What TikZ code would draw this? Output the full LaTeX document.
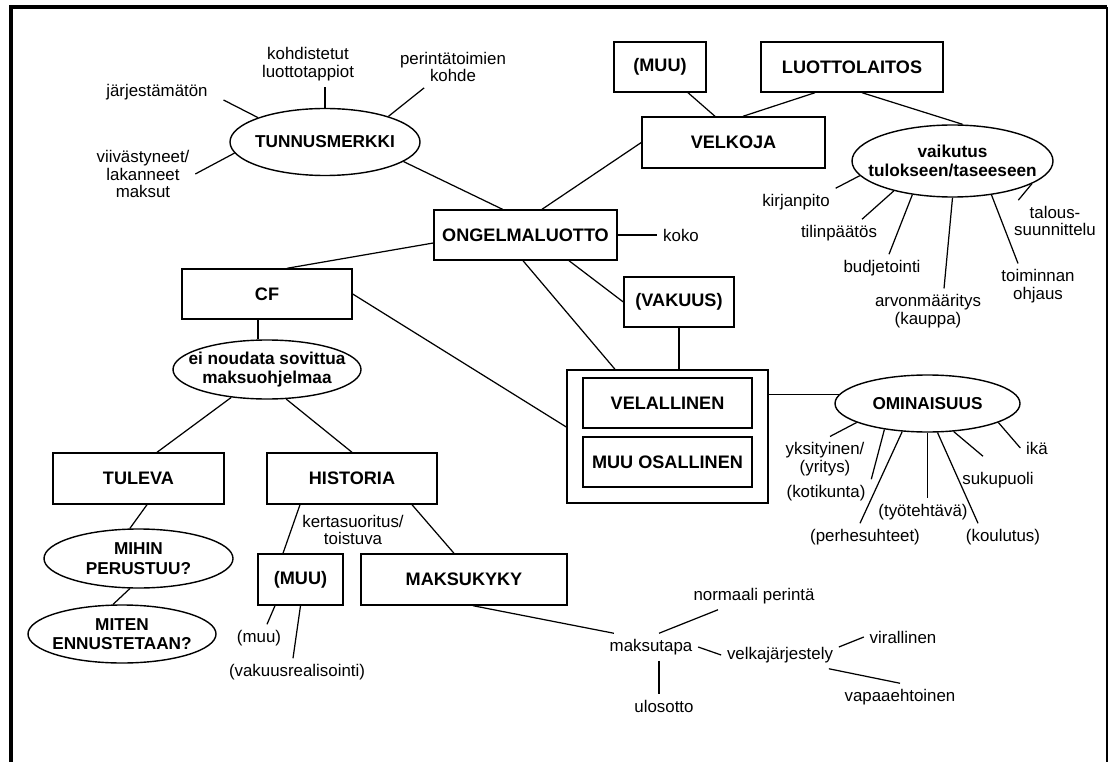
\documentclass[tikz,border=0pt]{standalone}
\usepackage{fontspec}
\setmainfont{Liberation Sans}
\usetikzlibrary{shapes.geometric}
\tikzset{
  leaf/.style={inner sep=3pt, align=center, font=\fontsize{9.6}{10}\selectfont}
}

\begin{document}
\begin{tikzpicture}[x=0.2mm, y=-0.2mm, line width=0.7pt,
  box/.style={draw, line width=0.8pt, minimum height=10mm, inner sep=0pt, font=\bfseries\fontsize{10.3}{11}\selectfont},
  oval/.style={draw, ellipse, line width=0.8pt, inner sep=-30pt, align=center, font=\bfseries\fontsize{9.8}{11}\selectfont}]
\useasboundingbox (0,0) rectangle (1109,762);
\draw[line width=2pt] (11,762) -- (11,7) -- (1107,7);
\draw[line width=1pt] (1107,7) -- (1107,762);

\node[box, minimum width=36.6mm] (ongel) at (525.5,235) {ONGELMALUOTTO};
\node[leaf] (koko) at (681,235) {koko};
\node[box, minimum width=22mm] (vakuus) at (679,302) {(VAKUUS)};

\node[oval, minimum width=38mm, minimum height=13.4mm] (tunnus) at (325,142) {TUNNUSMERKKI};
\node[leaf] (jarj) at (157,92) {järjestämätön};
\node[leaf] (kohd) at (308,64) {kohdistetut\\luottotappiot};
\node[leaf] (perint) at (453,67) {perintätoimien\\kohde};
\node[leaf] (viiv) at (143,174) {viivästyneet/\\lakanneet\\maksut};

\node[box, minimum width=36.6mm, minimum height=10.2mm] (velkoja) at (733.5,142.5) {VELKOJA};
\node[box, minimum width=18.4mm] (muuvelk) at (660,67) {(MUU)};
\node[box, minimum width=36.4mm] (laitos) at (852,67) {LUOTTOLAITOS};
\node[oval, minimum width=40.2mm, minimum height=14.4mm] (vaik) at (952.5,161) {vaikutus\\tulokseen/taseeseen};
\node[leaf] (kirj) at (796,202) {kirjanpito};
\node[leaf] (tilin) at (839,233) {tilinpäätös};
\node[leaf] (budj) at (882,268) {budjetointi};
\node[leaf] (arvo) at (928,311) {arvonmääritys\\(kauppa)};
\node[leaf] (toim) at (1038,286) {toiminnan\\ohjaus};
\node[leaf] (talous) at (1055,221) {talous-\\suunnittelu};

\node[draw, line width=0.8pt, minimum width=40.2mm, minimum height=26.6mm] (osapuoli) at (667.5,436.5) {};
\node[box, minimum width=33.8mm] (velal) at (667.5,403) {VELALLINEN};
\node[box, minimum width=33.8mm] (muuosa) at (667.5,462) {MUU OSALLINEN};
\node[oval, minimum width=37mm, minimum height=11.4mm] (omin) at (927.5,403.5) {OMINAISUUS};
\node[leaf] (yksi) at (825,459) {yksityinen/\\(yritys)};
\node[leaf] (kotik) at (826,493) {(kotikunta)};
\node[leaf] (perhe) at (865,537) {(perhesuhteet)};
\node[leaf] (tyot) at (923,512) {(työtehtävä)};
\node[leaf] (koul) at (1003,537) {(koulutus)};
\node[leaf] (suku) at (998,480) {sukupuoli};
\node[leaf] (ika) at (1037,448) {ikä};

\node[box, minimum width=34mm] (cf) at (267,294) {CF};
\node[oval, minimum width=37.6mm, minimum height=11.8mm] (einoud) at (267,369.5) {ei noudata sovittua\\maksuohjelmaa};
\node[box, minimum width=34.2mm, minimum height=10.2mm] (tuleva) at (138.5,478.5) {TULEVA};
\node[box, minimum width=34mm, minimum height=10.2mm] (historia) at (352,478.5) {HISTORIA};
\node[oval, minimum width=37.8mm, minimum height=11.8mm] (mihin) at (138.5,558.5) {MIHIN\\PERUSTUU?};
\node[oval, minimum width=37.6mm, minimum height=11.6mm] (miten) at (122,634) {MITEN\\ENNUSTETAAN?};
\node[leaf] (kerta) at (353,530) {kertasuoritus/\\toistuva};
\node[box, minimum width=17mm, minimum height=10.2mm] (muuhist) at (300.5,579.5) {(MUU)};
\node[box, minimum width=41.2mm, minimum height=10.2mm] (kyky) at (464,579.5) {MAKSUKYKY};
\node[leaf] (muu) at (259,638) {(muu)};
\node[leaf] (vakre) at (297,672) {(vakuusrealisointi)};

\node[leaf] (mtapa) at (651,647) {maksutapa};
\node[leaf] (norm) at (754,596) {normaali perintä};
\node[leaf] (uloso) at (664,706) {ulosotto};
\node[leaf] (velkaj) at (780,655) {velkajärjestely};
\node[leaf] (viral) at (903,637) {virallinen};
\node[leaf] (vapaa) at (900,697) {vapaaehtoinen};

\draw ([shift={(2mm,-1.6mm)}]jarj.east) -- (tunnus.160);
\draw (tunnus.north) -- (tunnus.north |- kohd.south);
\draw ([xshift=6mm]perint.south west) -- (tunnus.22);
\draw (viiv.east) -- (tunnus.187);
\draw (tunnus.346) -- ([xshift=-4.6mm]ongel.north);
\draw (velkoja.west) -- ([xshift=3.3mm]ongel.north);
\draw ([xshift=5.6mm]muuvelk.south) -- ([xshift=-3.7mm]velkoja.north);
\draw ([xshift=-7.4mm]laitos.south) -- ([xshift=1.9mm]velkoja.north);
\draw ([xshift=2mm]laitos.south) -- ([xshift=2mm]vaik.north);
\draw (kirj.north east) -- (vaik.189);
\draw ([xshift=4.6mm]tilin.north) -- (vaik.207);
\draw ([xshift=1.4mm]budj.north) -- (vaik.220);
\draw ([xshift=3.2mm]arvo.north) -- (vaik.south);
\draw ([xshift=-4mm]toim.north) -- (vaik.319);
\draw ([xshift=2mm]talous.north west) -- (vaik.344);
\draw (ongel.east) -- (koko.west);
\draw ([xshift=8.7mm]ongel.south) -- (vakuus.west);
\draw ([xshift=-0.5mm]ongel.south) -- ([xshift=-10.5mm]osapuoli.north);
\draw (vakuus.south) -- (vakuus.south |- osapuoli.north);
\draw (omin.174) -- (omin.174 -| osapuoli.east);
\draw ([xshift=1mm]yksi.north) -- (omin.195);
\draw (kotik.north east) -- (omin.211);
\draw ([xshift=-1mm]perhe.north) -- (omin.228);
\draw (omin.south) -- (omin.south |- tyot.north);
\draw ([xshift=-5mm]koul.north) -- (omin.289);
\draw ([shift={(-3mm,2mm)}]suku.north) -- (omin.313);
\draw (ika.west) -- (omin.345);
\draw ([yshift=-1.6mm]ongel.west) -- ([xshift=4mm]cf.north);
\draw (cf.east) -- ([yshift=1.9mm]osapuoli.west);
\draw ([xshift=-1.8mm]cf.south) -- ([xshift=-1.8mm]cf.south |- einoud.north);
\draw (einoud.218) -- ([xshift=3.7mm]tuleva.north);
\draw (einoud.303) -- (historia.north);
\draw ([xshift=1.7mm]tuleva.south) -- (mihin.106);
\draw (mihin.254) -- (miten.107);
\draw ([xshift=-10.4mm]historia.south) -- ([xshift=-3.5mm]muuhist.north);
\draw ([xshift=12mm]historia.south) -- ([xshift=-2mm]kyky.north);
\draw ([xshift=-5.1mm]muuhist.south) -- ([xshift=1.6mm]muu.north);
\draw (muuhist.south) -- ([xshift=-0.8mm]vakre.north);
\draw ([xshift=1.8mm]kyky.south) -- ([xshift=2mm]mtapa.north west);
\draw ([xshift=1.6mm]mtapa.north) -- ([xshift=-7.2mm]norm.south);
\draw ([xshift=1.6mm]mtapa.south) -- ([xshift=1.6mm]mtapa.south |- uloso.north);
\draw (mtapa.east) -- (velkaj.west);
\draw ([yshift=1.6mm]velkaj.east) -- (viral.west);
\draw ([xshift=-2mm]velkaj.south east) -- (vapaa.north);
\end{tikzpicture}
\end{document}
